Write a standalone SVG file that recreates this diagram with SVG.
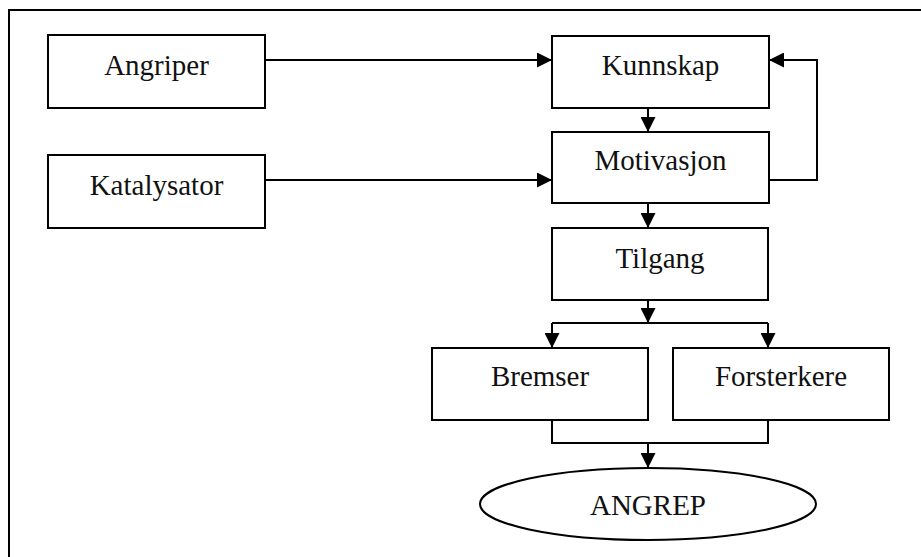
<svg xmlns="http://www.w3.org/2000/svg" width="921" height="557" viewBox="0 0 921 557">
  <style>
    .box { fill: #ffffff; stroke: #000000; stroke-width: 2; }
    .lbl { font-family: "Liberation Serif", "Times New Roman", serif; font-size: 29px; fill: #111111; text-anchor: middle; }
    .conn { fill: none; stroke: #000000; stroke-width: 2; }
  </style>
  <defs>
    <marker id="arrow" viewBox="0 0 15 15" refX="15" refY="7.5" markerWidth="15" markerHeight="15" markerUnits="userSpaceOnUse" orient="auto">
      <path d="M0,0 L15,7.5 L0,15 Z" fill="#000000"/>
    </marker>
  </defs>
  <rect width="921" height="557" fill="#ffffff"/>
  <!-- outer frame, open to the right and bottom -->
  <path d="M9,557 L9,10 L921,10" fill="none" stroke="#000000" stroke-width="2"/>

  <g id="connectors">
    <path class="conn" d="M265,60 L552,60" marker-end="url(#arrow)"/>
    <path class="conn" d="M265,180 L552,180" marker-end="url(#arrow)"/>
    <path class="conn" d="M769,180 L817,180 L817,60 L769,60" marker-end="url(#arrow)"/>
    <path class="conn" d="M648,108 L648,132" marker-end="url(#arrow)"/>
    <path class="conn" d="M648,203 L648,228" marker-end="url(#arrow)"/>
    <path class="conn" d="M648,300 L648,323" marker-end="url(#arrow)"/>
    <path class="conn" d="M552,323 L768,323"/>
    <path class="conn" d="M552,323 L552,348" marker-end="url(#arrow)"/>
    <path class="conn" d="M768,323 L768,348" marker-end="url(#arrow)"/>
    <path class="conn" d="M552,420 L552,443 L768,443 L768,420"/>
    <path class="conn" d="M648,443 L648,468" marker-end="url(#arrow)"/>
  </g>

  <g id="angriper">
    <rect class="box" x="48" y="35" width="217" height="73"/>
    <text class="lbl" x="156.5" y="75">Angriper</text>
  </g>
  <g id="katalysator">
    <rect class="box" x="48" y="155" width="217" height="73"/>
    <text class="lbl" x="156.5" y="195">Katalysator</text>
  </g>
  <g id="kunnskap">
    <rect class="box" x="552" y="36" width="217" height="72"/>
    <text class="lbl" x="660.5" y="75">Kunnskap</text>
  </g>
  <g id="motivasjon">
    <rect class="box" x="552" y="132" width="217" height="71"/>
    <text class="lbl" x="660.5" y="170">Motivasjon</text>
  </g>
  <g id="tilgang">
    <rect class="box" x="552" y="228" width="216" height="72"/>
    <text class="lbl" x="660" y="268">Tilgang</text>
  </g>
  <g id="bremser">
    <rect class="box" x="432" y="348" width="216" height="72"/>
    <text class="lbl" x="540" y="386">Bremser</text>
  </g>
  <g id="forsterkere">
    <rect class="box" x="673" y="348" width="216" height="72"/>
    <text class="lbl" x="781" y="386">Forsterkere</text>
  </g>
  <g id="angrep">
    <ellipse class="box" cx="648" cy="504" rx="168" ry="36"/>
    <text class="lbl" x="648" y="515">ANGREP</text>
  </g>
</svg>
